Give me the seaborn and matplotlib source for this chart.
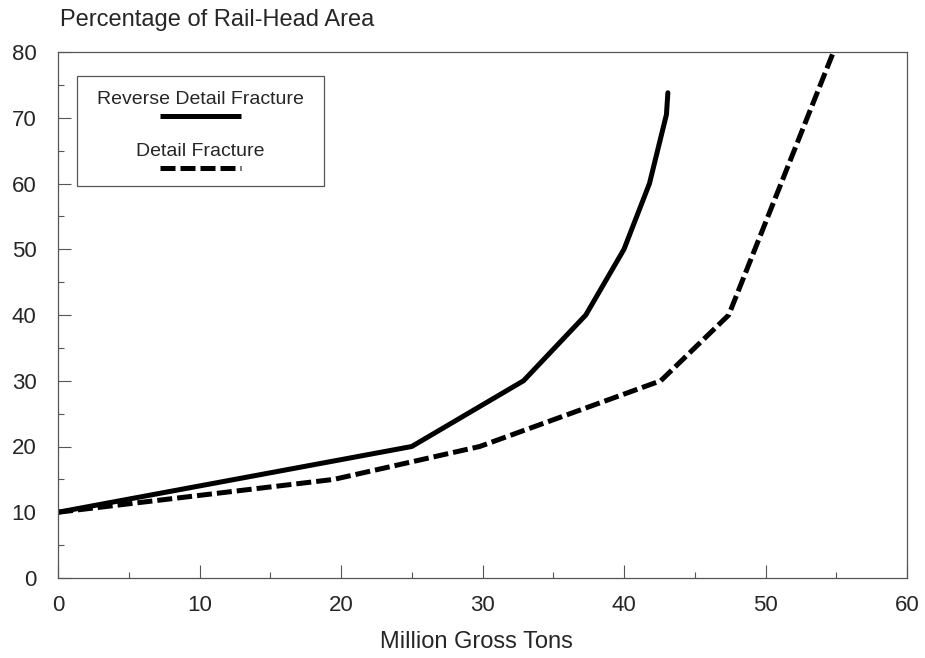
import matplotlib
matplotlib.use("Agg")
import matplotlib.pyplot as plt
from matplotlib.lines import Line2D
from matplotlib.patches import Rectangle
from matplotlib.ticker import MultipleLocator
import pandas as pd
import seaborn as sns

# Defect growth curves: rail-head area vs. accumulated tonnage
rdf_mgt = [0, 25, 32.9, 37.3, 40.0, 41.8, 43.0, 43.1]
rdf_pct = [10, 20, 30, 40, 50, 60, 70.5, 73.8]

df_mgt = [0, 19.5, 29.8, 42.6, 47.4, 54.8]
df_pct = [10, 15, 20, 30, 40, 80]

series_names = ["Reverse Detail Fracture", "Detail Fracture"]
x_label = "Million Gross Tons"
y_label = "Percentage of Rail-Head Area"

data = pd.concat([
    pd.DataFrame({"mgt": rdf_mgt, "pct": rdf_pct, "defect": series_names[0]}),
    pd.DataFrame({"mgt": df_mgt, "pct": df_pct, "defect": series_names[1]}),
], ignore_index=True)

sns.set_style("white")
plt.rcParams["font.family"] = ["Liberation Sans", "DejaVu Sans"]

W, H = 925, 658
L, R, T, B = 58, 907, 52, 578
fig = plt.figure(figsize=(W / 100, H / 100), dpi=100)
ax = fig.add_axes([L / W, 1 - B / H, (R - L) / W, (B - T) / H])

lw = 3.6
dash_seq = (3.0, 1.0)
sns.lineplot(data=data, x="mgt", y="pct", hue="defect", style="defect",
             palette={series_names[0]: "black", series_names[1]: "black"},
             dashes={series_names[0]: "", series_names[1]: dash_seq},
             sort=False, linewidth=lw, legend=False, ax=ax)

ax.set_xlim(0, 60)
ax.set_ylim(0, 80)
ax.xaxis.set_major_locator(MultipleLocator(10))
ax.xaxis.set_minor_locator(MultipleLocator(5))
ax.yaxis.set_major_locator(MultipleLocator(10))
ax.yaxis.set_minor_locator(MultipleLocator(5))
ax.tick_params(axis="both", which="major", direction="in", length=9.5, width=0.8,
               color="#555555", labelsize=16)
ax.tick_params(axis="both", which="minor", direction="in", length=4.5, width=0.8,
               color="#555555")
ax.tick_params(axis="x", which="both", bottom=True, top=False, pad=12)
ax.tick_params(axis="y", which="both", left=True, right=False, pad=15.5)
for s in ax.spines.values():
    s.set_visible(True)
    s.set_color("#555555")
    s.set_linewidth(0.9)

ax.set_xlabel("")
ax.set_ylabel("")
fig.text(476 / W, 1 - 642 / H, x_label, fontsize=17, ha="center", va="center")
fig.text(60 / W, 1 - 20 / H, y_label, fontsize=17, ha="left", va="center")


def px(x, y):
    """Pixel position inside the figure -> axes fraction."""
    return (x - L) / (R - L), (B - y) / (B - T)


# Legend panel: label text sitting above each line sample
bx0, by1 = px(77, 186)
bx1, by0 = px(324, 76)
ax.add_patch(Rectangle((bx0, by1), bx1 - bx0, by0 - by1, transform=ax.transAxes,
                       facecolor="white", edgecolor="#555555", lw=0.9, zorder=3))
x0, _ = px(160, 0)
x1, _ = px(241, 0)
for name, ty_px, ly_px, style in [(series_names[0], 100, 116, "-"),
                                  (series_names[1], 152, 168, (0, dash_seq))]:
    tx, ty = px(200, ty_px)
    ax.text(tx, ty, name, transform=ax.transAxes, ha="center", va="center",
            fontsize=14, zorder=4)
    _, ly = px(0, ly_px)
    ax.add_line(Line2D([x0, x1], [ly, ly], transform=ax.transAxes, color="black",
                       lw=lw, linestyle=style, solid_capstyle="butt",
                       dash_capstyle="butt", zorder=4))

fig.savefig("out.png", dpi=100)
